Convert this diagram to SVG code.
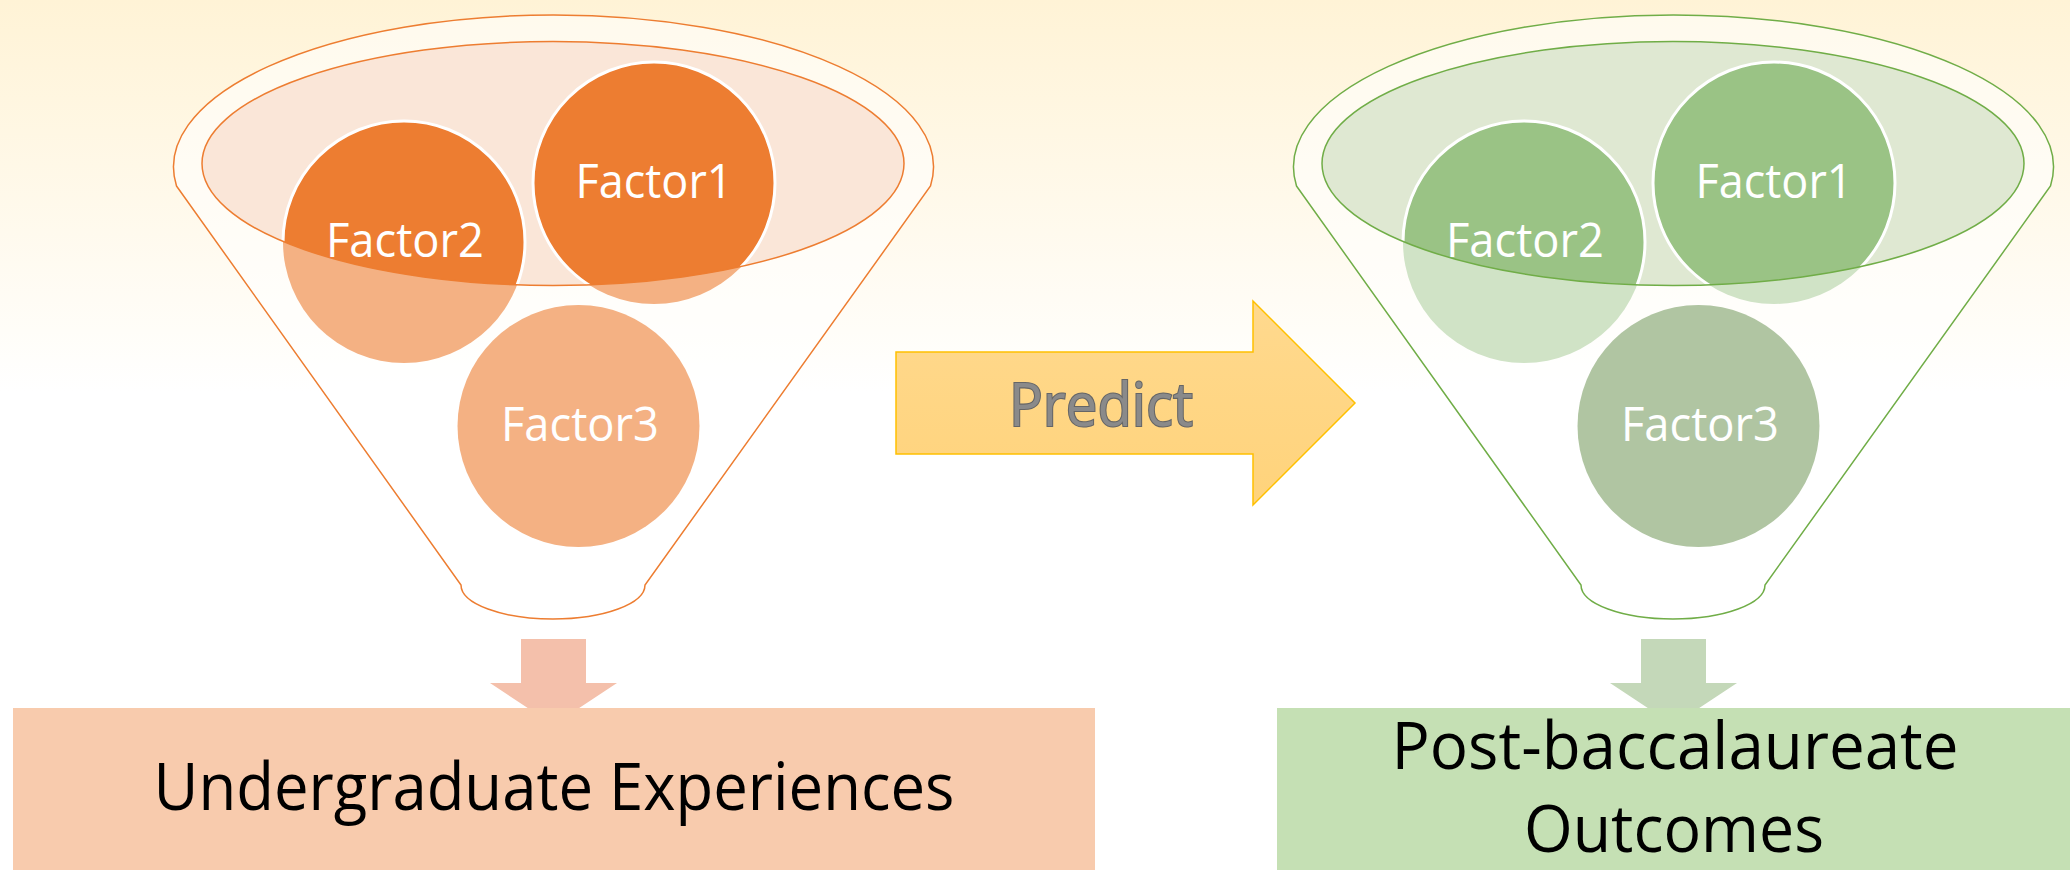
<svg xmlns="http://www.w3.org/2000/svg" width="2070" height="870" viewBox="0 0 2070 870">
  <defs>
    <linearGradient id="bg" x1="0" y1="0" x2="0" y2="1" gradientUnits="objectBoundingBox">
      <stop offset="0" stop-color="#FFF3D6"/>
      <stop offset="0.38" stop-color="#FFFDF8"/>
      <stop offset="0.45" stop-color="#FFFFFF"/>
    </linearGradient>
    <linearGradient id="arrowFill" x1="0" y1="0" x2="0" y2="1">
      <stop offset="0" stop-color="#FFD98E"/>
      <stop offset="1" stop-color="#FFD37B"/>
    </linearGradient>
    <clipPath id="mouth">
      <ellipse cx="553" cy="163.5" rx="351" ry="122"/>
    </clipPath>
    <path id="funnelBody" d="M176.5,186 L461,585 A92,34 0 0 0 645,585 L930.5,186 A380,152 0 1 0 176.5,186 Z"/>
    <path id="downArrow" d="M521,639 H586 V683 H617 L553.5,725 L490,683 H521 Z"/>
  </defs>
  <style>
    .factor { font-family: "Open Sans", "Noto Sans", "Liberation Sans", sans-serif; font-size: 47px; fill: #FFFFFF; text-anchor: middle; }
    .label { font-family: "Open Sans", "Noto Sans", "Liberation Sans", sans-serif; font-size: 65px; fill: #000000; text-anchor: middle; }
    .predict { font-family: "Open Sans", "Noto Sans", "Liberation Sans", sans-serif; font-size: 60px; font-weight: 400; fill: #8A8A8A; stroke: #666666; stroke-width: 2.2px; paint-order: stroke; text-anchor: middle; }
    .ring { stroke: #FFFFFF; stroke-width: 3; }
  </style>

  <rect x="0" y="0" width="2070" height="870" fill="url(#bg)"/>

  <!-- left funnel: undergraduate factors -->
  <g id="funnel-left">
    <use href="#funnelBody" fill="#FFFFFF" fill-opacity="0.55" stroke="#ED7D31" stroke-width="1.5"/>
    <ellipse cx="553" cy="163.5" rx="351" ry="122" fill="#FAE6D8"/>
    <circle cx="654" cy="183" r="121" fill="#F4B183"/>
    <circle cx="404" cy="242" r="121" fill="#F4B183"/>
    <g clip-path="url(#mouth)">
      <circle cx="654" cy="183" r="121" fill="#ED7D31" class="ring"/>
      <circle cx="404" cy="242" r="121" fill="#ED7D31" class="ring"/>
    </g>
    <ellipse cx="553" cy="163.5" rx="351" ry="122" fill="none" stroke="#ED7D31" stroke-width="1.5"/>
    <circle cx="578.5" cy="426" r="121" fill="#F4B183"/>
    <text class="factor" x="654" y="198" textLength="157" lengthAdjust="spacingAndGlyphs">Factor1</text>
    <text class="factor" x="405" y="257" textLength="158" lengthAdjust="spacingAndGlyphs">Factor2</text>
    <text class="factor" x="580" y="441" textLength="158" lengthAdjust="spacingAndGlyphs">Factor3</text>
  </g>

  <!-- right funnel: post-baccalaureate factors -->
  <g id="funnel-right" transform="translate(1120,0)">
    <use href="#funnelBody" fill="#FFFFFF" fill-opacity="0.55" stroke="#70AD47" stroke-width="1.5"/>
    <ellipse cx="553" cy="163.5" rx="351" ry="122" fill="#DFE8D2"/>
    <circle cx="654" cy="183" r="121" fill="#D0E3C6"/>
    <circle cx="404" cy="242" r="121" fill="#D0E3C6"/>
    <g clip-path="url(#mouth)">
      <circle cx="654" cy="183" r="121" fill="#9AC385" class="ring"/>
      <circle cx="404" cy="242" r="121" fill="#9AC385" class="ring"/>
    </g>
    <ellipse cx="553" cy="163.5" rx="351" ry="122" fill="none" stroke="#70AD47" stroke-width="1.5"/>
    <circle cx="578.5" cy="426" r="121" fill="#B0C5A2"/>
    <text class="factor" x="654" y="198" textLength="157" lengthAdjust="spacingAndGlyphs">Factor1</text>
    <text class="factor" x="405" y="257" textLength="158" lengthAdjust="spacingAndGlyphs">Factor2</text>
    <text class="factor" x="580" y="441" textLength="158" lengthAdjust="spacingAndGlyphs">Factor3</text>
  </g>

  <!-- connectors -->
  <g id="connectors">
    <path id="predict-arrow" d="M896,352 H1253 V301 L1355,403 L1253,505 V454 H896 Z" fill="url(#arrowFill)" stroke="#FFC000" stroke-width="1.5"/>
    <text class="predict" x="1101" y="426" textLength="184" lengthAdjust="spacingAndGlyphs">Predict</text>
    <use href="#downArrow" fill="#F4C0AB"/>
    <use href="#downArrow" transform="translate(1120,0)" fill="#C4D8B9"/>
  </g>

  <!-- outcome boxes -->
  <g id="box-undergraduate">
    <rect x="13" y="708" width="1082" height="170" fill="#F8CBAD"/>
    <text class="label" x="554" y="810" textLength="801" lengthAdjust="spacingAndGlyphs">Undergraduate Experiences</text>
  </g>
  <g id="box-outcomes">
    <rect x="1277" y="708" width="800" height="170" fill="#C5E0B4"/>
    <text class="label" x="1675" y="769" textLength="567" lengthAdjust="spacingAndGlyphs">Post-baccalaureate</text>
    <text class="label" x="1674" y="852" textLength="300" lengthAdjust="spacingAndGlyphs">Outcomes</text>
  </g>
</svg>
